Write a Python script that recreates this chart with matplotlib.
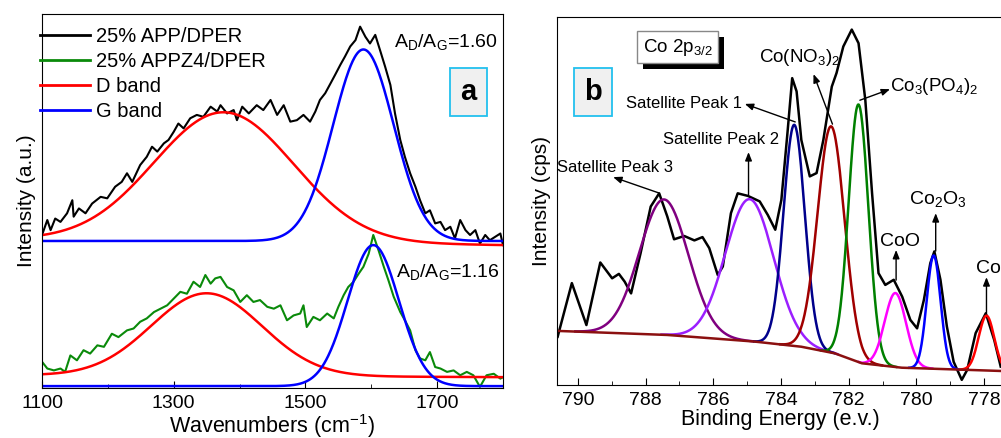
import numpy as np
import matplotlib
matplotlib.use('Agg')
import matplotlib.pyplot as plt
import matplotlib.patheffects as pe

plt.rcParams['font.family'] = ['Liberation Sans', 'DejaVu Sans']
plt.rcParams['mathtext.fontset'] = 'custom'
plt.rcParams['mathtext.rm'] = 'Liberation Sans'
plt.rcParams['mathtext.it'] = 'Liberation Sans:italic'

# ---- panel a : Raman spectra (intensity in arbitrary 0-100 units) ----
wn_app = [1100, 1108, 1113, 1120, 1128, 1138, 1146, 1148, 1156, 1166, 1176, 1189, 1199,
          1211, 1221, 1229, 1237, 1249, 1259, 1267, 1275, 1285, 1292, 1300, 1307, 1315,
          1325, 1335, 1345, 1356, 1366, 1371, 1381, 1391, 1396, 1404, 1414, 1426, 1436,
          1447, 1457, 1467, 1477, 1487, 1497, 1507, 1515, 1522, 1530, 1538, 1545, 1553,
          1560, 1568, 1576, 1583, 1591, 1598, 1606, 1614, 1621, 1629, 1636, 1644, 1651,
          1659, 1667, 1674, 1682, 1689, 1697, 1705, 1712, 1720, 1727, 1735, 1743, 1750,
          1758, 1765, 1773, 1780, 1788, 1796, 1800]
int_app = [40.9, 44.9, 42.2, 45.3, 44.4, 46.7, 50.2, 45.8, 48.0, 46.7, 49.3, 51.1, 50.7,
           53.8, 55.1, 57.4, 55.1, 59.6, 61.8, 64.5, 63.2, 65.4, 66.3, 68.5, 70.7, 69.4,
           72.1, 73.0, 72.5, 75.2, 73.9, 75.6, 73.4, 74.3, 71.6, 75.2, 73.4, 75.6, 74.3,
           77.0, 73.0, 75.6, 71.2, 71.6, 73.0, 71.2, 73.9, 77.0, 78.8, 81.4, 83.7, 86.4,
           88.6, 91.3, 93.0, 96.6, 93.9, 92.1, 94.4, 89.9, 85.9, 81.0, 73.4, 66.3, 61.8,
           57.4, 53.8, 50.2, 46.7, 47.5, 44.0, 44.4, 42.2, 43.1, 40.0, 44.9, 42.2, 40.9,
           42.2, 38.6, 40.9, 39.5, 40.4, 41.3, 38.2]

wn_appz4 = [1100, 1108, 1118, 1128, 1135, 1143, 1153, 1163, 1173, 1184, 1194, 1206, 1216,
            1229, 1239, 1249, 1259, 1270, 1280, 1290, 1300, 1310, 1320, 1330, 1340, 1348,
            1356, 1363, 1371, 1381, 1391, 1401, 1411, 1421, 1431, 1442, 1452, 1462, 1472,
            1482, 1492, 1497, 1502, 1512, 1522, 1533, 1543, 1550, 1558, 1565, 1573, 1581,
            1588, 1596, 1603, 1611, 1619, 1626, 1634, 1644, 1651, 1659, 1667, 1674, 1682,
            1689, 1697, 1705, 1715, 1725, 1735, 1745, 1755, 1765, 1775, 1786, 1796, 1800]
int_appz4 = [7.0, 5.2, 4.7, 5.2, 4.3, 8.7, 7.4, 10.1, 9.2, 11.4, 11.0, 14.5, 13.6,
             15.4, 15.9, 17.7, 18.6, 20.3, 21.2, 22.1, 23.9, 25.7, 25.2, 28.4, 27.0, 30.2,
             27.9, 29.3, 29.7, 27.0, 26.1, 23.0, 24.8, 23.0, 23.5, 21.7, 21.2, 22.1, 18.1,
             19.4, 19.9, 22.1, 16.3, 19.0, 18.1, 19.9, 18.6, 21.7, 24.8, 27.0, 28.4, 30.6,
             32.4, 35.9, 40.9, 36.8, 32.4, 28.8, 24.4, 20.3, 18.1, 15.4, 10.1, 7.9, 7.4,
             9.6, 5.6, 5.2, 4.3, 4.7, 3.4, 4.3, 3.4, 0.3, 3.4, 3.8, 2.5, 2.9]

# fitted bands: centre, sigma, height, baseline at 1100, baseline at 1800
d_band_app = [1376, 106, 34.6, 39.7, 38.2]
g_band_app = [1588, 46, 51.2, 39.3, 39.3]
d_band_appz4 = [1350, 84, 22.1, 3.4, 2.9]
g_band_appz4 = [1603, 39, 37.7, 0.5, 0.5]
ratio_labels = ['1.60', '1.16']

# ---- panel b : Co 2p3/2 XPS ----
be_exp = [790.6, 790.18, 789.75, 789.34, 788.99, 788.79, 788.62, 788.43, 788.15, 787.85,
          787.6, 787.36, 787.16, 786.86, 786.56, 786.32, 786.12, 785.87, 785.72, 785.48,
          785.28, 784.98, 784.63, 784.39, 784.17, 783.99, 783.81, 783.67, 783.54, 783.4,
          783.15, 782.95, 782.75, 782.5, 782.36, 782.16, 781.91, 781.71, 781.51, 781.31,
          781.12, 780.92, 780.67, 780.42, 780.18, 779.98, 779.78, 779.59, 779.47, 779.29,
          779.1, 778.9, 778.66, 778.5, 778.25, 777.95, 777.7, 777.51]
cps_exp = [13.1, 27.7, 16.3, 33.3, 29.0, 30.2, 28.1, 24.9, 35.8, 48.5,
           52.1, 45.8, 39.6, 40.5, 39.3, 40.2, 37.2, 29.9, 32.2, 46.7,
           52.1, 51.4, 49.9, 46.2, 42.2, 50.3, 68.5, 83.4, 79.8, 66.6,
           56.7, 57.6, 66.6, 81.1, 84.8, 92.0, 96.6, 92.9, 77.5, 52.1,
           30.4, 27.2, 28.6, 24.0, 17.7, 15.4, 23.1, 33.1, 36.3, 28.6,
           15.9, 6.3, 1.4, 4.1, 14.1, 19.5, 12.2, 5.0]

be_bg = [790.6, 787.36, 784.78, 783.4, 782.41, 781.61, 780.43, 777.46]
cps_bg = [14.7, 13.6, 11.8, 10.4, 8.6, 5.9, 4.7, 3.8]

peak_names = ['Sat3', 'Sat2', 'Sat1', 'Co(NO3)2', 'Co3(PO4)2', 'CoO', 'Co2O3', 'Co']
peak_centres = [787.46, 784.93, 783.61, 782.52, 781.71, 780.62, 779.49, 777.93]
peak_heights = [36.8, 38.6, 60.1, 61.5, 70.0, 20.1, 30.8, 14.9]
peak_fwhm = [1.7, 1.68, 0.74, 0.94, 0.69, 0.74, 0.48, 0.54]
peak_colors = ['#800080', '#9b1fff', '#00008b', '#a00000', '#008000', '#ff00ff', '#0000ff', '#ff0000']

fig = plt.figure(figsize=(10.01, 4.38), dpi=100)
ax1 = fig.add_axes([0.042, 0.1142, 0.4605, 0.854])
ax2 = fig.add_axes([0.5564, 0.121, 0.446, 0.840])


def band(x, p):
    c, s, h, b0, b1 = p
    base = b0 + (b1 - b0) * (x - 1100) / 700.0
    return base + h * np.exp(-0.5 * ((x - c) / s) ** 2)


x = np.linspace(1100, 1800, 700)
ax1.plot(wn_app, int_app, color='black', lw=1.5, label='25% APP/DPER')
ax1.plot(wn_appz4, int_appz4, color='#0a8a0a', lw=1.5, label='25% APPZ4/DPER')
ax1.plot(x, band(x, d_band_app), color='#ff0000', lw=1.8, label='D band')
ax1.plot(x, band(x, g_band_app), color='#0000ff', lw=1.8, label='G band')
ax1.plot(x, band(x, d_band_appz4), color='#ff0000', lw=1.8)
ax1.plot(x, band(x, g_band_appz4), color='#0000ff', lw=1.8)

ax1.set_xlim(1100, 1800)
ax1.set_ylim(0, 100)
ax1.set_xticks([1100, 1300, 1500, 1700])
ax1.set_xticks([1200, 1400, 1600, 1800], minor=True)
ax1.set_yticks([])
ax1.tick_params(axis='x', direction='in', labelsize=14, length=5, pad=5)
ax1.tick_params(axis='x', which='minor', direction='in', length=3)
ax1.set_xlabel('Wavenumbers (cm$^{-1}$)', fontsize=15.5, labelpad=0)
ax1.set_ylabel('Intensity (a.u.)', fontsize=15, labelpad=4)

leg = ax1.legend(loc='upper left', bbox_to_anchor=(-0.005, 0.965), frameon=False, fontsize=14.5,
                 handlelength=2.5, handletextpad=0.3, labelspacing=0.3, borderpad=0,
                 borderaxespad=0)
for ln in leg.get_lines():
    ln.set_linewidth(2.0)

ax1.text(1792, 92.5, r'A$_\mathregular{D}$/A$_\mathregular{G}$=' + ratio_labels[0],
         ha='right', va='center', fontsize=14)
ax1.text(1795, 31.0, r'A$_\mathregular{D}$/A$_\mathregular{G}$=' + ratio_labels[1],
         ha='right', va='center', fontsize=14)
ax1.text(0.925, 0.791, 'a', transform=ax1.transAxes, ha='center', va='center',
         fontsize=21, fontweight='bold',
         bbox=dict(boxstyle='square,pad=0.35', fc='#f0f0f0', ec='#22c0ee', lw=1.3))

# panel b
xb = np.linspace(777.3, 790.7, 1400)
bg = np.interp(xb, be_bg[::-1], cps_bg[::-1])
for c, h, w, col in zip(peak_centres, peak_heights, peak_fwhm, peak_colors):
    s = w / 2.3548
    y = bg + h * np.exp(-0.5 * ((xb - c) / s) ** 2)
    mask = y > bg + 0.05
    ax2.plot(xb[mask], y[mask], color=col, lw=1.8)
ax2.plot(be_bg, cps_bg, color='#8b1010', lw=1.8)
ax2.plot(be_exp, cps_exp, color='black', lw=1.8, zorder=1)

ax2.set_xlim(790.62, 777.43)
ax2.set_ylim(0, 100)
ax2.set_xticks([790, 788, 786, 784, 782, 780, 778])
ax2.set_xticks([789, 787, 785, 783, 781, 779], minor=True)
ax2.set_yticks([])
ax2.tick_params(axis='x', direction='in', labelsize=14, length=5, pad=5)
ax2.tick_params(axis='x', which='minor', direction='in', length=3)
ax2.set_xlabel('Binding Energy (e.v.)', fontsize=15.5, labelpad=0)
ax2.set_ylabel('Intensity (cps)', fontsize=15, labelpad=4)

arrow = dict(arrowstyle='-|>,head_length=0.5,head_width=0.2', color='black', lw=1.0,
             shrinkA=0, shrinkB=0)
lab = 12
ax2.text(790.62, 59.2, 'Satellite Peak 3', fontsize=lab, ha='left', va='center')
ax2.annotate('', xy=(788.96, 56.5), xytext=(787.61, 52.2), arrowprops=arrow)
ax2.text(785.78, 66.6, 'Satellite Peak 2', fontsize=lab, ha='center', va='center')
ax2.annotate('', xy=(784.96, 63.3), xytext=(784.96, 51.6), arrowprops=arrow)
ax2.text(786.87, 76.6, 'Satellite Peak 1', fontsize=lab, ha='center', va='center')
ax2.annotate('', xy=(785.07, 76.4), xytext=(783.58, 71.5), arrowprops=arrow)
ax2.text(783.46, 89.1, r'Co(NO$_\mathregular{3}$)$_\mathregular{2}$', fontsize=13.5,
         ha='center', va='center')
ax2.annotate('', xy=(783.04, 84.5), xytext=(782.48, 70.9), arrowprops=arrow)
ax2.text(780.78, 81.0, r'Co$_\mathregular{3}$(PO$_\mathregular{4}$)$_\mathregular{2}$',
         fontsize=13.5, ha='left', va='center')
ax2.annotate('', xy=(780.78, 80.4), xytext=(781.67, 77.4), arrowprops=arrow)
ax2.text(780.48, 38.9, 'CoO', fontsize=14, ha='center', va='center')
ax2.annotate('', xy=(780.6, 36.7), xytext=(780.6, 28.5), arrowprops=arrow)
ax2.text(779.37, 50.5, r'Co$_\mathregular{2}$O$_\mathregular{3}$', fontsize=14,
         ha='center', va='center')
ax2.annotate('', xy=(779.43, 46.7), xytext=(779.43, 36.4), arrowprops=arrow)
ax2.text(777.88, 31.8, 'Co', fontsize=14, ha='center', va='center')
ax2.annotate('', xy=(777.93, 29.3), xytext=(777.93, 19.6), arrowprops=arrow)

t = ax2.text(0.27, 0.918, r'Co 2p$_\mathregular{3/2}$', transform=ax2.transAxes,
             ha='center', va='center', fontsize=13.5,
             bbox=dict(boxstyle='square,pad=0.3', fc='white', ec='#888888', lw=1.0))
t.get_bbox_patch().set_path_effects([pe.SimplePatchShadow(offset=(4, -4), shadow_rgbFace='black',
                                                          alpha=1.0), pe.Normal()])
ax2.text(0.081, 0.796, 'b', transform=ax2.transAxes, ha='center', va='center',
         fontsize=21, fontweight='bold',
         bbox=dict(boxstyle='square,pad=0.35', fc='#f0f0f0', ec='#22c0ee', lw=1.3))

fig.savefig('out.png', dpi=100)
